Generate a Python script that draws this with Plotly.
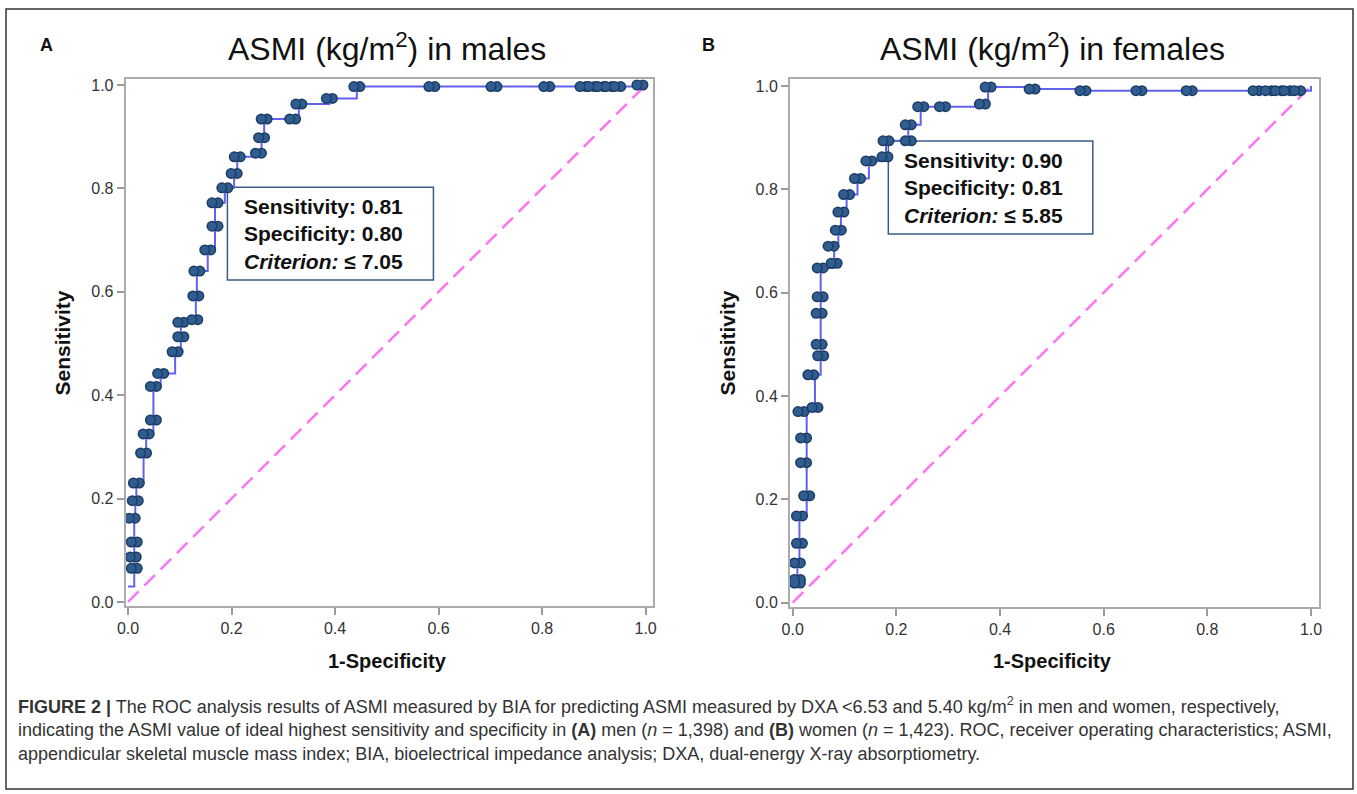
import numpy as np
import plotly.graph_objects as go

# ---------------- data ----------------
male_fpr = [0.012, 0.010, 0.012, 0.008, 0.014, 0.016, 0.030, 0.035, 0.049, 0.049,
            0.063, 0.091, 0.102, 0.102, 0.129, 0.131, 0.133, 0.154, 0.168, 0.168,
            0.187, 0.205, 0.211, 0.252, 0.258, 0.263, 0.318, 0.330, 0.389, 0.442,
            0.587, 0.707, 0.809, 0.879, 0.896, 0.913, 0.929, 0.946, 0.989]
male_sens = [0.065, 0.087, 0.116, 0.162, 0.196, 0.230, 0.288, 0.325, 0.352, 0.417,
             0.442, 0.484, 0.513, 0.541, 0.546, 0.592, 0.640, 0.681, 0.727, 0.772,
             0.801, 0.829, 0.861, 0.868, 0.898, 0.934, 0.934, 0.963, 0.974, 0.997,
             0.997, 0.997, 0.997, 0.997, 0.997, 0.997, 0.997, 0.997, 1.000]

female_fpr = [0.009, 0.009, 0.009, 0.013, 0.013, 0.027, 0.021, 0.021, 0.016, 0.043,
              0.035, 0.054, 0.051, 0.051, 0.053, 0.053, 0.080, 0.074, 0.088, 0.093,
              0.104, 0.125, 0.147, 0.178, 0.180, 0.223, 0.223, 0.247, 0.289, 0.366,
              0.377, 0.462, 0.560, 0.668, 0.765, 0.894, 0.918, 0.937, 0.954, 0.974]
female_sens = [0.038, 0.045, 0.077, 0.115, 0.168, 0.207, 0.271, 0.319, 0.370, 0.378,
               0.441, 0.478, 0.500, 0.560, 0.592, 0.648, 0.657, 0.690, 0.721, 0.756,
               0.790, 0.821, 0.855, 0.863, 0.894, 0.894, 0.925, 0.960, 0.960, 0.965,
               0.998, 0.994, 0.991, 0.991, 0.991, 0.991, 0.991, 0.991, 0.991, 0.991]

roc_start = (0.0, 0.03)
roc_end = (1.0, 1.0)
chance_x = [0.0, 1.0]
chance_y = [0.0, 1.0]

tick_vals = [0.0, 0.2, 0.4, 0.6, 0.8, 1.0]
tick_text = ["0.0", "0.2", "0.4", "0.6", "0.8", "1.0"]

titles = ["ASMI (kg/m<sup>2</sup>) in males", "ASMI (kg/m<sup>2</sup>) in females"]
panel_letters = ["A", "B"]
box_texts = [
    "<b>Sensitivity: 0.81</b><br><b>Specificity: 0.80</b><br><b><i>Criterion:</i> ≤ 7.05</b>",
    "<b>Sensitivity: 0.90</b><br><b>Specificity: 0.81</b><br><b><i>Criterion:</i> ≤ 5.85</b>",
]
caption_lines = [
    "<b>FIGURE 2 |</b> The ROC analysis results of ASMI measured by BIA for predicting ASMI measured by DXA &lt;6.53 and 5.40 kg/m<sup>2</sup> in men and women, respectively,",
    "indicating the ASMI value of ideal highest sensitivity and specificity in <b>(A)</b> men (<i>n</i> = 1,398) and <b>(B)</b> women (<i>n</i> = 1,423). ROC, receiver operating characteristics; ASMI,",
    "appendicular skeletal muscle mass index; BIA, bioelectrical impedance analysis; DXA, dual-energy X-ray absorptiometry.",
]

# ---------------- layout geometry (pixels) ----------------
W, H = 1357, 794
FONT = "Liberation Sans, Arial, sans-serif"

def px(x):
    return x / W

def py(y):
    return 1 - y / H

panels = [
    dict(xdom=(125.7, 653.0), ydom=(79.3, 605.7), xr=(-0.0045, 1.0142), yr=(-0.0072, 1.011),
         box=(0.192, 0.590, 0.623, 0.802), txt=(0.2196, 0.712), cx=387, ylab_x=62, letter_x=46),
    dict(xdom=(790.0, 1319.0), ydom=(79.3, 606.7), xr=(-0.0052, 1.0154), yr=(-0.0077, 1.0130),
         box=(0.1845, 0.579, 0.7136, 0.8935), txt=(0.211, 0.8026), cx=1052, ylab_x=727, letter_x=708),
]
datasets = [(male_fpr, male_sens), (female_fpr, female_sens)]

fig = go.Figure()
layout = dict(width=W, height=H, margin=dict(l=0, r=0, t=0, b=0, pad=0),
              paper_bgcolor="white", plot_bgcolor="white", showlegend=False,
              font=dict(family=FONT, color="#333333"))
annotations = []
shapes = []

ELL_HALF = 3.0  # px half offset for elliptical markers
mk_outline = "#1D3C64"
mk_fill = "#2F5D90"
mk_center = "#6E9ACD"

for i, (p, (fx, sy)) in enumerate(zip(panels, datasets)):
    n = i * 3
    xa = "xaxis" if i == 0 else f"xaxis{n + 1}"
    ya = "yaxis" if i == 0 else f"yaxis{i + 1}"
    xref = "x" if i == 0 else f"x{n + 1}"
    yref = "y" if i == 0 else f"y{i + 1}"
    xdom = (px(p["xdom"][0]), px(p["xdom"][1]))
    ydom = (py(p["ydom"][1]), py(p["ydom"][0]))
    axis_common = dict(showgrid=False, zeroline=False, showline=True, mirror=True,
                       automargin=False,
                       linecolor="#ABABAB", linewidth=2, ticks="outside", ticklen=7,
                       tickwidth=1.5, tickcolor="#9A9A9A", tickvals=tick_vals,
                       ticktext=tick_text, tickfont=dict(size=16, color="#333333", family=FONT))
    layout[xa] = dict(domain=xdom, range=list(p["xr"]), anchor=yref, **axis_common)
    layout[ya] = dict(domain=ydom, range=list(p["yr"]), anchor=xref, **axis_common)

    # overlay axes for elliptical markers (shifted left/right by a few px)
    span = p["xr"][1] - p["xr"][0]
    dom_px = p["xdom"][1] - p["xdom"][0]
    d = ELL_HALF * span / dom_px
    ov_refs = []
    for k, sgn in enumerate([-1, 1]):
        axname = f"xaxis{n + 2 + k}"
        ref = f"x{n + 2 + k}"
        layout[axname] = dict(domain=xdom, range=[p["xr"][0] + sgn * d, p["xr"][1] + sgn * d],
                              overlaying=xref, visible=False, anchor=yref, automargin=False)
        ov_refs.append(ref)

    # chance diagonal
    fig.add_trace(go.Scatter(x=chance_x, y=chance_y, mode="lines", xaxis=xref, yaxis=yref,
                             line=dict(color="#FF72F4", width=2.5, dash="15px,8px"),
                             hoverinfo="skip"))
    # ROC step line
    lx = np.concatenate([[roc_start[0]], np.maximum.accumulate(np.array(fx)), [roc_end[0]]])
    ly = np.concatenate([[roc_start[1]], np.array(sy), [roc_end[1]]])
    fig.add_trace(go.Scatter(x=lx, y=ly, mode="lines", xaxis=xref, yaxis=yref,
                             line=dict(color="#6262F2", width=2, shape="hv"),
                             hoverinfo="skip"))
    # elliptical markers: outline, fill, centre highlight
    for ref in ov_refs:
        fig.add_trace(go.Scatter(x=fx, y=sy, mode="markers", xaxis=ref, yaxis=yref,
                                 marker=dict(symbol="circle", size=11, color=mk_outline,
                                             line=dict(width=0)), hoverinfo="skip"))
    for ref in ov_refs:
        fig.add_trace(go.Scatter(x=fx, y=sy, mode="markers", xaxis=ref, yaxis=yref,
                                 marker=dict(symbol="circle", size=8, color=mk_fill,
                                             line=dict(width=0)), hoverinfo="skip"))
    fig.add_trace(go.Scatter(x=fx, y=sy, mode="markers", xaxis=xref, yaxis=yref,
                             marker=dict(symbol="line-ew", size=7,
                                         line=dict(width=1.5, color=mk_center)),
                             hoverinfo="skip"))

    # info box
    bx0, bx1, by0, by1 = p["box"]
    shapes.append(dict(type="rect", xref=xref, yref=yref, x0=bx0, x1=bx1, y0=by0, y1=by1,
                       line=dict(color="#3D5C85", width=1.5), fillcolor="white", layer="below"))
    annotations.append(dict(text=box_texts[i], xref=xref, yref=yref, x=p["txt"][0], y=p["txt"][1],
                            xanchor="left", yanchor="middle", align="left", showarrow=False,
                            font=dict(size=21, color="#111111", family=FONT)))
    # titles, axis labels, panel letter
    annotations.append(dict(text=titles[i], xref="paper", yref="paper", x=px(p["cx"]), y=py(47),
                            xanchor="center", yanchor="middle", showarrow=False,
                            font=dict(size=32, color="#111111", family=FONT)))
    annotations.append(dict(text="<b>1-Specificity</b>", xref="paper", yref="paper",
                            x=px(p["cx"]), y=py(661), xanchor="center", yanchor="middle",
                            showarrow=False, font=dict(size=20, color="#111111", family=FONT)))
    annotations.append(dict(text="<b>Sensitivity</b>", xref="paper", yref="paper",
                            x=px(p["ylab_x"]), y=py(343.5), xanchor="center", yanchor="middle",
                            textangle=-90, showarrow=False,
                            font=dict(size=21, color="#111111", family=FONT)))
    annotations.append(dict(text=f"<b>{panel_letters[i]}</b>", xref="paper", yref="paper",
                            x=px(p["letter_x"]), y=py(45), xanchor="center", yanchor="middle",
                            showarrow=False, font=dict(size=18, color="#111111", family=FONT)))

# caption
for j, (line, yc) in enumerate(zip(caption_lines, [705, 730, 754])):
    annotations.append(dict(text=line, xref="paper", yref="paper", x=px(16), y=py(yc),
                            xanchor="left", yanchor="middle", align="left", showarrow=False,
                            font=dict(size=18.0, color="#333333", family=FONT)))

# outer frame
shapes.append(dict(type="rect", xref="paper", yref="paper", x0=px(6), x1=px(1353),
                   y0=py(789), y1=py(9), line=dict(color="#333333", width=1.5)))

layout["annotations"] = annotations
layout["shapes"] = shapes
fig.update_layout(**layout)
fig.write_html("out.html", config={"displayModeBar": False},
               post_script="document.body.style.margin='0';document.body.style.overflow='hidden';")
